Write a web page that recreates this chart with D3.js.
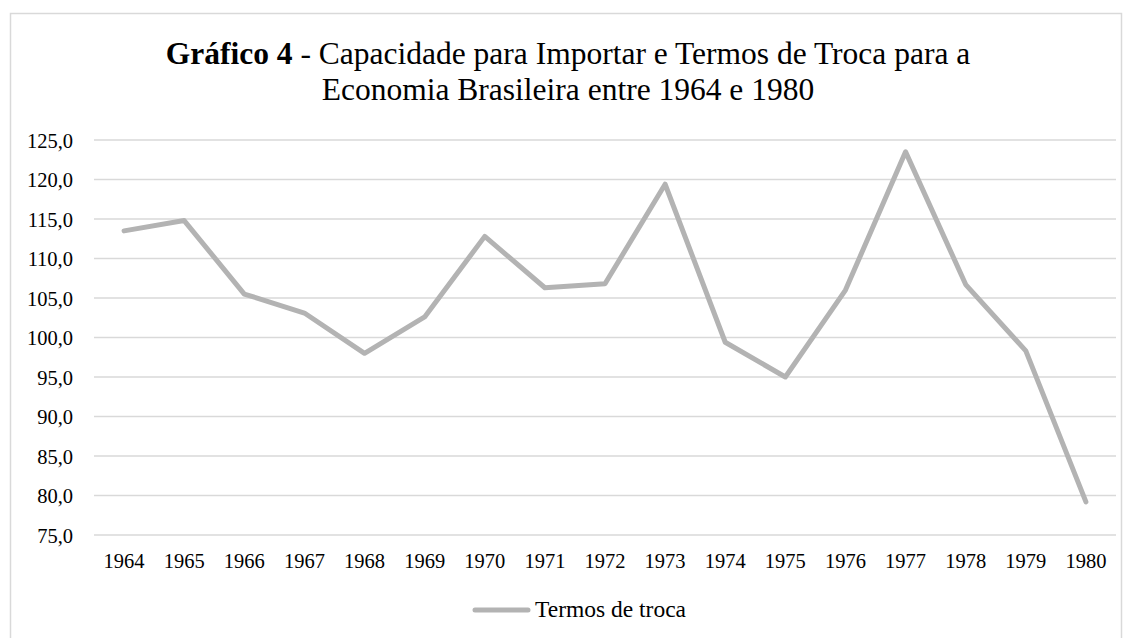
<!DOCTYPE html>
<html lang="pt">
<head>
    <meta charset="UTF-8">
    <title>Gráfico 4 - Termos de troca</title>
    <script src="https://d3js.org/d3.v7.min.js"></script>
    <style>
        body { margin: 0; background: #fff; }
        svg text { font-family: "Liberation Serif", "Times New Roman", serif; fill: #000; }
    </style>
</head>
<body>
    <div id="chart"></div>
    <script>
        // dados
        const years = ['1964', '1965', '1966', '1967', '1968', '1969', '1970', '1971', '1972',
                       '1973', '1974', '1975', '1976', '1977', '1978', '1979', '1980'];
        const termosDeTroca = [113.5, 114.8, 105.5, 103.1, 98.0, 102.6, 112.8, 106.3, 106.8,
                               119.4, 99.4, 95.0, 106.0, 123.5, 106.7, 98.3, 79.2];
        const yTicks = [75, 80, 85, 90, 95, 100, 105, 110, 115, 120, 125];

        const width = 1133, height = 638;
        const margin = { top: 140, right: 17, bottom: 103, left: 94 };

        const svg = d3.select('#chart')
            .append('svg')
            .attr('width', width)
            .attr('height', height);

        // moldura
        svg.append('rect')
            .attr('x', 10.5).attr('y', 13.5)
            .attr('width', 1111).attr('height', 640)
            .attr('fill', 'none')
            .attr('stroke', '#d9d9d9')
            .attr('stroke-width', 1.5);

        const x = d3.scaleBand()
            .domain(years)
            .range([margin.left, width - margin.right]);

        const y = d3.scaleLinear()
            .domain([75, 125])
            .range([height - margin.bottom, margin.top]);

        // grade
        svg.append('g')
            .selectAll('line')
            .data(yTicks)
            .enter()
            .append('line')
            .attr('x1', margin.left)
            .attr('x2', width - margin.right)
            .attr('y1', d => y(d))
            .attr('y2', d => y(d))
            .attr('stroke', '#d9d9d9')
            .attr('stroke-width', 1.3);

        // eixo y
        const yAxis = svg.append('g')
            .attr('transform', `translate(${margin.left - 18},0)`)
            .call(d3.axisLeft(y).tickValues(yTicks).tickSize(0)
                .tickFormat(d => d3.format('.1f')(d).replace('.', ',')));
        yAxis.select('.domain').remove();
        yAxis.selectAll('text').attr('font-size', 20.5).attr('dy', '0.35em');

        // eixo x
        const xAxis = svg.append('g')
            .attr('transform', `translate(0,${height - margin.bottom})`)
            .call(d3.axisBottom(x).tickSize(0).tickPadding(18));
        xAxis.select('.domain').remove();
        xAxis.selectAll('text').attr('font-size', 20.5);

        // linha
        const line = d3.line()
            .x((d, i) => x(years[i]) + x.bandwidth() / 2)
            .y(d => y(d));

        svg.append('path')
            .datum(termosDeTroca)
            .attr('d', line)
            .attr('fill', 'none')
            .attr('stroke', '#b3b3b3')
            .attr('stroke-width', 5)
            .attr('stroke-linejoin', 'round')
            .attr('stroke-linecap', 'round');

        // título
        const title = svg.append('text')
            .attr('text-anchor', 'middle')
            .attr('x', 568)
            .attr('y', 64)
            .attr('font-size', 31.5);
        title.append('tspan').attr('font-weight', 'bold').text('Gráfico 4');
        title.append('tspan').text(' - Capacidade para Importar e Termos de Troca para a');
        svg.append('text')
            .attr('text-anchor', 'middle')
            .attr('x', 568)
            .attr('y', 100)
            .attr('font-size', 31.5)
            .text('Economia Brasileira entre 1964 e 1980');

        // legenda
        const legend = svg.append('g');
        legend.append('line')
            .attr('x1', 475).attr('x2', 528)
            .attr('y1', 610).attr('y2', 610)
            .attr('stroke', '#b3b3b3')
            .attr('stroke-width', 5)
            .attr('stroke-linecap', 'round');
        legend.append('text')
            .attr('x', 535)
            .attr('y', 617)
            .attr('font-size', 23.5)
            .text('Termos de troca');
    </script>
</body>
</html>
